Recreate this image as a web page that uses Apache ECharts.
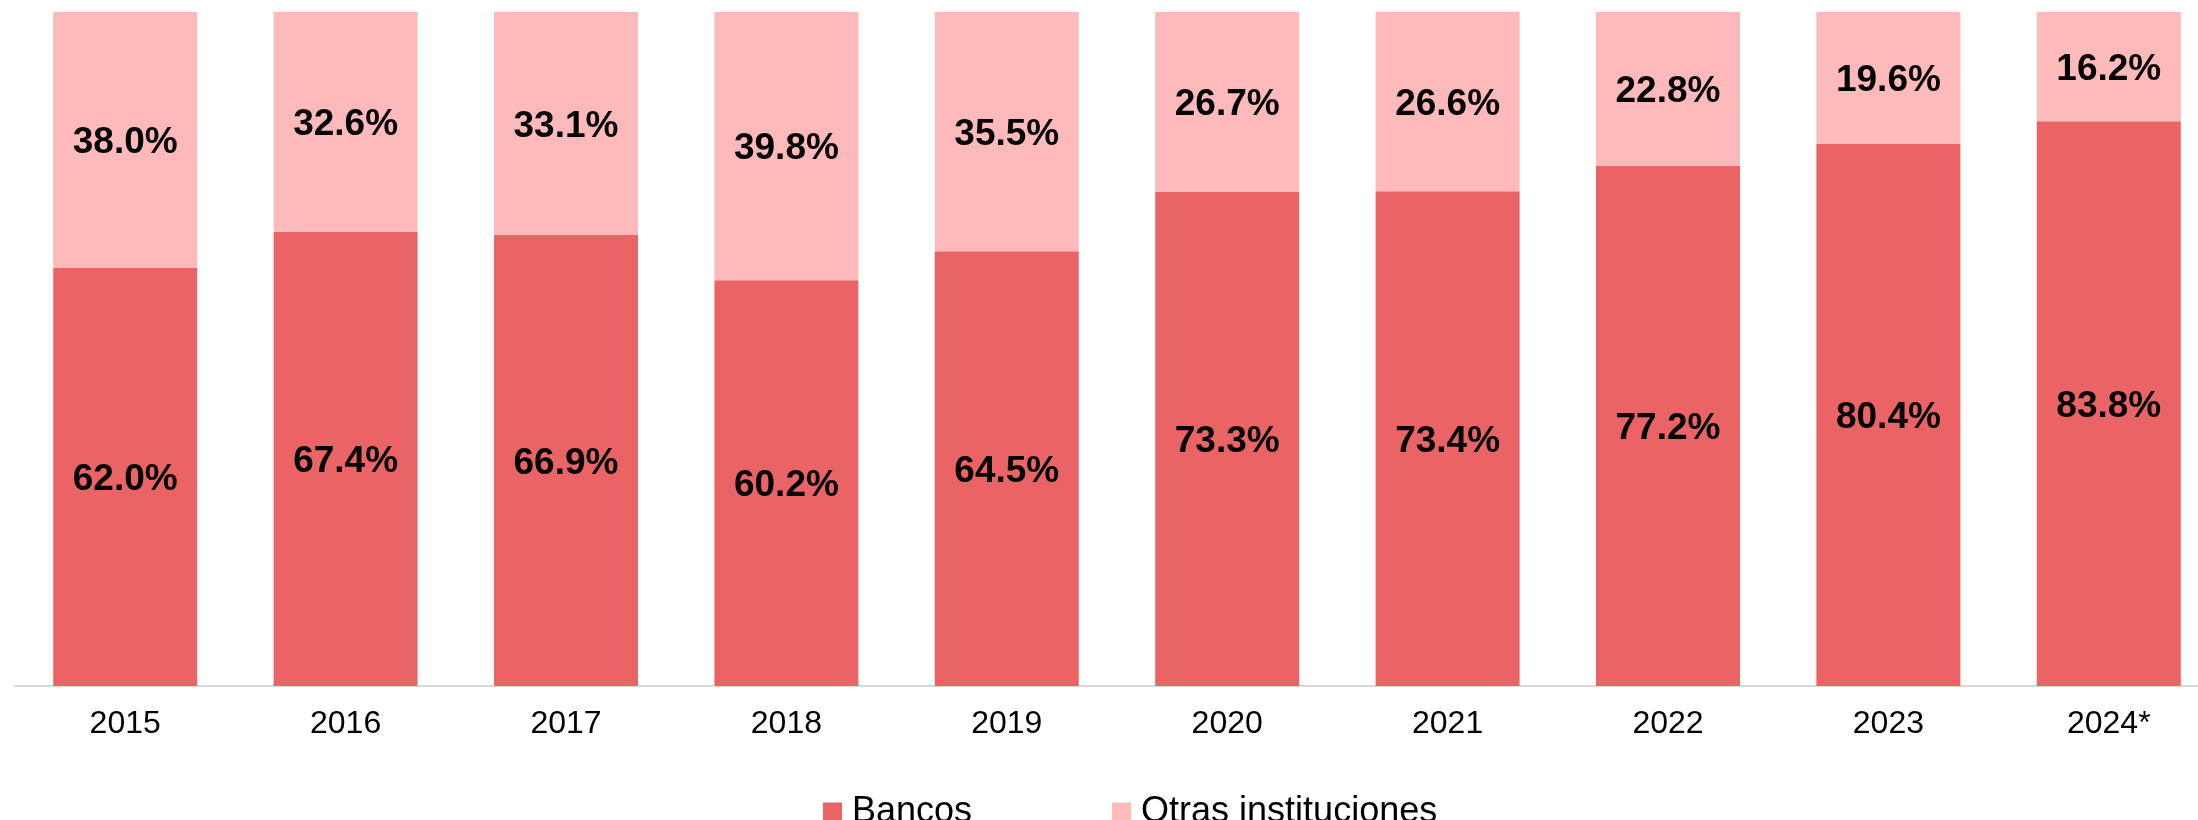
<!DOCTYPE html>
<html>
<head>
<meta charset="utf-8">
<script src="https://cdn.jsdelivr.net/npm/echarts@6/dist/echarts.min.js"></script>
<style>
html,body{margin:0;padding:0;background:#fff;overflow:hidden;width:2198px;height:820px;}
#chart{width:2220px;height:820px;}
</style>
</head>
<body>
<div id="chart"></div>
<script>
const categories = ['2015','2016','2017','2018','2019','2020','2021','2022','2023','2024*'];
const bancos = [62.0, 67.4, 66.9, 60.2, 64.5, 73.3, 73.4, 77.2, 80.4, 83.8];
const otras = [38.0, 32.6, 33.1, 39.8, 35.5, 26.7, 26.6, 22.8, 19.6, 16.2];
const seriesNames = ['Bancos', 'Otras instituciones'];

const FONT = '"Liberation Sans", Arial, sans-serif';
const chart = echarts.init(document.getElementById('chart'));
const labelStyle = {
  show: true,
  position: 'inside',
  offset: [0, 3],
  color: '#000',
  fontWeight: 'bold',
  fontSize: 37,
  fontFamily: FONT,
  formatter: p => p.value.toFixed(1) + '%'
};
chart.setOption({
  animation: false,
  backgroundColor: '#fff',
  grid: {left: 15, right: 1, top: 12, bottom: 134},
  legend: {
    left: 818, top: 789,
    itemWidth: 19, itemHeight: 19, itemGap: 140,
    icon: 'rect',
    textStyle: {fontSize: 36, color: '#000', fontFamily: FONT, padding: [0,0,0,5]},
    data: seriesNames
  },
  xAxis: {
    type: 'category',
    data: categories,
    axisLine: {lineStyle: {color: '#D9D9D9', width: 2}},
    axisTick: {show: false},
    axisLabel: {fontSize: 32, color: '#000', margin: 22, fontFamily: FONT}
  },
  yAxis: {type: 'value', min: 0, max: 100, show: false, splitLine: {show: false}},
  series: [
    {name: seriesNames[0], type: 'bar', stack: 's', data: bancos, barWidth: 144,
     itemStyle: {color: '#EA6465'}, label: labelStyle},
    {name: seriesNames[1], type: 'bar', stack: 's', data: otras, barWidth: 144,
     itemStyle: {color: '#FEB9BA'}, label: labelStyle}
  ]
});
</script>
</body>
</html>
